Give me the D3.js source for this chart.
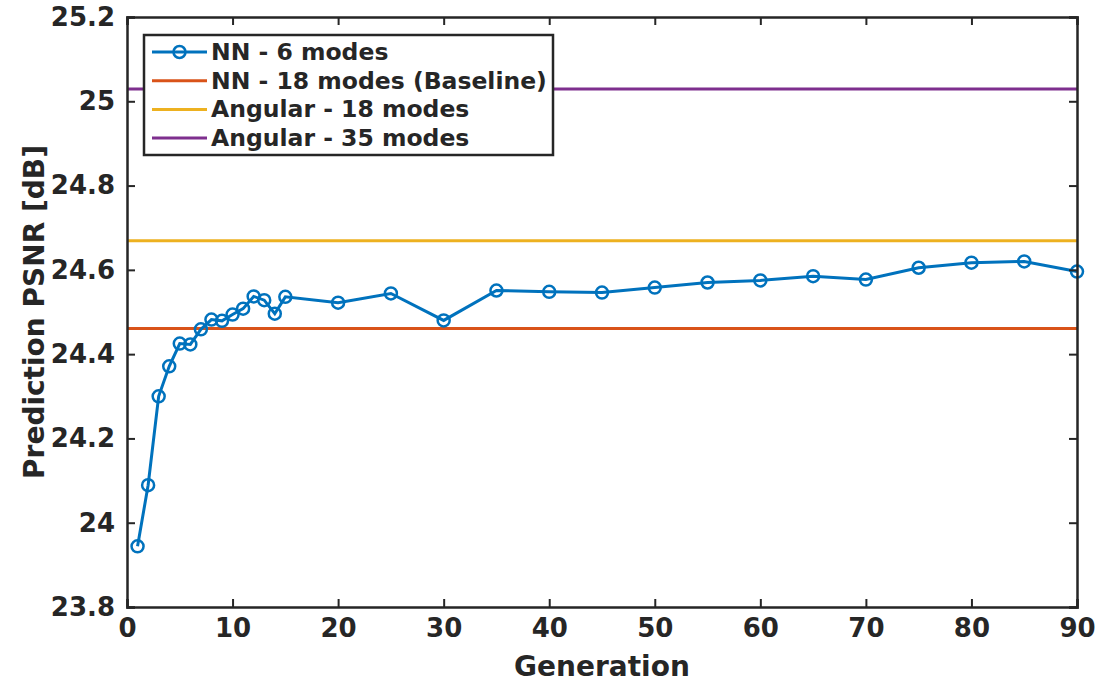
<!DOCTYPE html>
<html>
<head>
<meta charset="utf-8">
<script src="https://cdn.jsdelivr.net/npm/d3@7"></script>
<style>
  body { margin: 0; background: #fff; }
  text { font-family: "DejaVu Sans", sans-serif; font-weight: bold; fill: #262626; }
</style>
</head>
<body>
<div id="vizContainer"></div>
<script>
// generations and PSNR of the NN - 6 modes run
var generations = [1, 2, 3, 4, 5, 6, 7, 8, 9, 10, 11, 12, 13, 14, 15, 20, 25, 30, 35, 40, 45, 50, 55, 60, 65, 70, 75, 80, 85, 90];
var psnrNN6 = [23.944, 24.089, 24.300, 24.371, 24.425, 24.423, 24.459, 24.482, 24.479, 24.494, 24.508, 24.537, 24.528, 24.496, 24.536,
               24.522, 24.544, 24.480, 24.551, 24.548, 24.546, 24.558, 24.570, 24.575, 24.585, 24.577, 24.605, 24.617, 24.620, 24.596];

// constant reference levels
var refNames = ['NN - 18 modes (Baseline)', 'Angular - 18 modes', 'Angular - 35 modes'];
var refValues = [24.461, 24.669, 25.029];

var xTicks = [0, 10, 20, 30, 40, 50, 60, 70, 80, 90];
var yTicks = [23.8, 24, 24.2, 24.4, 24.6, 24.8, 25, 25.2];

var colors = ['#0072BD', '#D95319', '#EDB120', '#7E2F8E'];

var width = 1099, height = 683;
var plotLeft = 127, plotRight = 1077, plotTop = 17, plotBottom = 607;
var axisColor = '#262626';

var svg = d3.select('#vizContainer').append('svg')
    .attr('width', width)
    .attr('height', height)
    .attr('viewBox', '0 0 ' + width + ' ' + height);

var x = d3.scaleLinear().domain([0, 90]).range([plotLeft, plotRight]);
var y = d3.scaleLinear().domain([23.8, 25.2]).range([plotBottom, plotTop]);

// reference lines
refValues.forEach(function(v, i) {
    svg.append('line')
        .attr('x1', x(0)).attr('x2', x(90))
        .attr('y1', y(v)).attr('y2', y(v))
        .attr('stroke', colors[i + 1])
        .attr('stroke-width', 3);
});

// main series
var line = d3.line()
    .x(function(d, i) { return x(generations[i]); })
    .y(function(d) { return y(d); });

svg.append('path')
    .datum(psnrNN6)
    .attr('d', line)
    .attr('fill', 'none')
    .attr('stroke', colors[0])
    .attr('stroke-width', 3);

svg.selectAll('circle.pt')
    .data(psnrNN6)
    .enter().append('circle')
    .attr('class', 'pt')
    .attr('cx', function(d, i) { return x(generations[i]); })
    .attr('cy', function(d) { return y(d); })
    .attr('r', 6)
    .attr('fill', 'none')
    .attr('stroke', colors[0])
    .attr('stroke-width', 2.5);

// axes (inward ticks, box on all sides)
var tickLen = 8;
svg.append('g')
    .attr('transform', 'translate(0,' + plotBottom + ')')
    .call(d3.axisBottom(x).tickValues(xTicks).tickSize(-tickLen).tickPadding(12).tickFormat(d3.format('d')));
svg.append('g')
    .attr('transform', 'translate(0,' + plotTop + ')')
    .call(d3.axisTop(x).tickValues(xTicks).tickSize(-tickLen).tickFormat(''));
svg.append('g')
    .attr('transform', 'translate(' + plotLeft + ',0)')
    .call(d3.axisLeft(y).tickValues(yTicks).tickSize(-tickLen).tickPadding(12).tickFormat(function(d) { return String(+d.toFixed(1)); }));
svg.append('g')
    .attr('transform', 'translate(' + plotRight + ',0)')
    .call(d3.axisRight(y).tickValues(yTicks).tickSize(-tickLen).tickFormat(''));

svg.selectAll('.domain').attr('stroke', axisColor).attr('stroke-width', 2.5);
svg.selectAll('.tick line').attr('stroke', axisColor).attr('stroke-width', 2);
svg.selectAll('.tick text')
    .style('font-size', '26px')
    .style('font-family', '"DejaVu Sans", sans-serif')
    .style('font-weight', 'bold')
    .attr('fill', axisColor);

// axis titles
svg.append('text')
    .attr('x', (plotLeft + plotRight) / 2)
    .attr('y', 676)
    .attr('text-anchor', 'middle')
    .style('font-size', '28px')
    .text('Generation');

svg.append('text')
    .attr('transform', 'translate(44,' + ((plotTop + plotBottom) / 2) + ') rotate(-90)')
    .attr('text-anchor', 'middle')
    .style('font-size', '28px')
    .text('Prediction PSNR [dB]');

// legend
var legendNames = ['NN - 6 modes'].concat(refNames);
var legend = svg.append('g');
legend.append('rect')
    .attr('x', 144).attr('y', 35)
    .attr('width', 409).attr('height', 120)
    .attr('fill', '#fff')
    .attr('stroke', axisColor)
    .attr('stroke-width', 2.5);

legendNames.forEach(function(name, i) {
    var ly = 52 + i * 28.7;
    legend.append('line')
        .attr('x1', 152).attr('x2', 207)
        .attr('y1', ly).attr('y2', ly)
        .attr('stroke', colors[i])
        .attr('stroke-width', 3);
    if (i === 0) {
        legend.append('circle')
            .attr('cx', 179.5).attr('cy', ly).attr('r', 6)
            .attr('fill', 'none')
            .attr('stroke', colors[0])
            .attr('stroke-width', 2.5);
    }
    legend.append('text')
        .attr('x', 211).attr('y', ly + 8)
        .style('font-size', '23.5px')
        .attr('fill', '#000')
        .text(name);
});
</script>
</body>
</html>
